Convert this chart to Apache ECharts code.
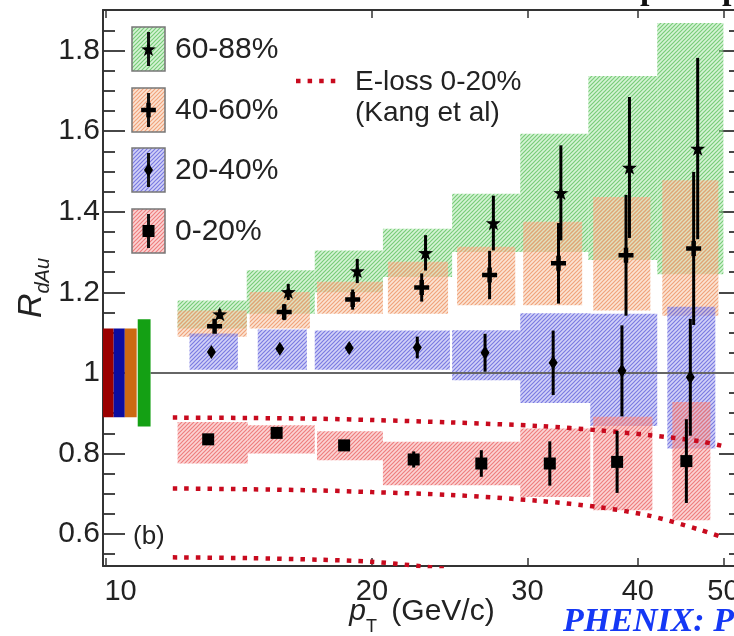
<!DOCTYPE html>
<html><head><meta charset="utf-8">
<script src="https://cdn.jsdelivr.net/npm/echarts@6/dist/echarts.min.js"></script>
<style>html,body{margin:0;padding:0;background:#fff}#c{width:734px;height:636px}</style>
</head><body><div id="c"></div>
<script>
// ---------------- data ----------------
const X_TICKS = [10, 20, 30, 40, 50];
const Y_MAJOR = [0.6, 0.8, 1.0, 1.2, 1.4, 1.6, 1.8];
const Y_MINOR = [0.55,0.65,0.7,0.75,0.85,0.9,0.95,1.05,1.1,1.15,1.25,1.3,1.35,1.45,1.5,1.55,1.65,1.7,1.75,1.85];
const X_RANGE = [9.92, 52.35];
const Y_RANGE = [0.5205, 1.901];
const CENTRALITIES = ['60-88%', '40-60%', '20-40%', '0-20%'];

const PT_60_88  = [13.45, 16.08, 19.25, 23.0, 27.45, 32.73, 39.14, 46.76];
const R_60_88   = [1.146, 1.201, 1.253, 1.298, 1.372, 1.447, 1.510, 1.557];
const ERR_60_88 = [0.012, 0.02, 0.03, 0.044, 0.068, 0.118, 0.175, 0.225];

const PT_40_60  = [13.27, 15.91, 19.02, 22.77, 27.18, 32.53, 38.79, 46.27];
const R_40_60   = [1.116, 1.151, 1.182, 1.212, 1.243, 1.272, 1.292, 1.309];
const ERR_40_60 = [0.012, 0.02, 0.025, 0.035, 0.06, 0.10, 0.15, 0.19];

const PT_20_40  = [13.16, 15.73, 18.85, 22.51, 26.86, 32.08, 38.38, 45.87];
const R_20_40   = [1.052, 1.060, 1.062, 1.063, 1.050, 1.025, 1.005, 0.989];
const ERR_20_40 = [0.01, 0.01, 0.012, 0.027, 0.047, 0.08, 0.113, 0.145];

const PT_0_20   = [13.05, 15.6, 18.6, 22.3, 26.6, 31.8, 37.9, 45.4];
const R_0_20    = [0.835, 0.851, 0.820, 0.785, 0.775, 0.775, 0.779, 0.781];
const ERR_0_20  = [0.01, 0.01, 0.01, 0.02, 0.033, 0.055, 0.077, 0.104];

const SYS_X_60_88 = [[12.05,14.43],[14.43,17.23],[17.23,20.58],[20.58,24.65],[24.65,29.44],[29.44,35.16],[35.16,42.08],[42.08,50.0]];
const SYS_Y_60_88 = [[1.11,1.18],[1.147,1.255],[1.20,1.304],[1.238,1.358],[1.30,1.445],[1.30,1.594],[1.28,1.737],[1.245,1.869]];
const SYS_X_40_60 = [[12.05,14.43],[14.54,17.01],[17.33,20.58],[20.85,24.39],[24.97,29.06],[29.67,34.60],[35.61,41.33],[42.64,49.35]];
const SYS_Y_40_60 = [[1.09,1.155],[1.110,1.201],[1.147,1.226],[1.147,1.276],[1.168,1.313],[1.168,1.375],[1.155,1.437],[1.142,1.478]];
const SYS_X_20_40 = [[12.43,14.10],[14.85,16.88],[17.23,20.58],[20.58,24.51],[24.65,29.44],[29.44,35.34],[35.34,42.08],[43.20,48.96]];
const SYS_Y_20_40 = [[1.008,1.098],[1.008,1.108],[1.008,1.105],[1.008,1.105],[0.982,1.106],[0.925,1.148],[0.868,1.147],[0.812,1.164]];
const SYS_X_0_20  = [[12.05,14.47],[14.47,17.23],[17.33,20.58],[20.58,24.65],[24.65,29.44],[29.44,35.34],[35.61,41.55],[43.77,48.33]];
const SYS_Y_0_20  = [[0.775,0.878],[0.800,0.870],[0.783,0.855],[0.721,0.829],[0.721,0.829],[0.692,0.862],[0.659,0.891],[0.634,0.928]];

// global normalisation uncertainties drawn at R=1 (0-20, 20-40, 40-60, 60-88)
const NORM_X    = [[9.92,10.20],[10.20,10.50],[10.50,10.83],[10.86,11.23]];
const NORM_HALF = [0.11, 0.11, 0.11, 0.133];
const UNITY_X   = [11.23, 52.35];

// E-loss calculation, 0-20% (Kang et al)
const ELOSS_PT   = [11.9, 14.5, 17.5, 20, 24.5, 31, 36.3, 41.3, 47.1, 50.0];
const ELOSS_HI   = [0.889, 0.888, 0.886, 0.883, 0.877, 0.868, 0.857, 0.845, 0.830, 0.818];
const ELOSS_MID  = [0.713, 0.711, 0.708, 0.704, 0.697, 0.682, 0.666, 0.645, 0.610, 0.591];
const ELOSS_LO_PT = [11.9, 14.5, 17.5, 20, 22.7, 24.5];
const ELOSS_LO   = [0.542, 0.540, 0.536, 0.531, 0.520, 0.512];

// ---------------- helpers ----------------
const L = Math.log10;
const FONT = '"Liberation Sans", Arial, Helvetica, sans-serif';
const TXT = '#222';
const STAR_PTS = [[0,-10],[2.35,-3.24],[9.51,-3.09],[3.8,1.24],[5.88,8.09],[0,4],[-5.88,8.09],[-3.8,1.24],[-9.51,-3.09],[-2.35,-3.24]];
const CROSS_PTS = [[-2.4,-8],[2.4,-8],[2.4,-2.4],[8,-2.4],[8,2.4],[2.4,2.4],[2.4,8],[-2.4,8],[-2.4,2.4],[-8,2.4],[-8,-2.4],[-2.4,-2.4]];
const toPath = pts => 'path://M' + pts.map(p => p[0] + ',' + p[1]).join('L') + 'Z';

function hatch(bg, fg) {
  const s = 4;
  const c = document.createElement('canvas');
  c.width = s; c.height = s;
  const g = c.getContext('2d');
  g.fillStyle = bg; g.fillRect(0, 0, s, s);
  g.strokeStyle = fg; g.lineWidth = 1.2;
  g.beginPath();
  g.moveTo(0, s); g.lineTo(s, 0);
  g.moveTo(-1, 1); g.lineTo(1, -1);
  g.moveTo(s - 1, s + 1); g.lineTo(s + 1, s - 1);
  g.stroke();
  return { image: c, repeat: 'repeat' };
}
const PAT = {
  g: hatch('rgba(165,228,165,0.45)', 'rgba(105,198,105,0.85)'),
  o: hatch('rgba(246,195,160,0.45)', 'rgba(238,152,108,0.85)'),
  b: hatch('rgba(155,155,238,0.45)', 'rgba(108,108,222,0.85)'),
  r: hatch('rgba(246,160,160,0.45)', 'rgba(236,112,112,0.85)')
};

function boxSeries(xs, ys, fill, z) {
  return {
    type: 'custom', z: z, silent: true, clip: true,
    data: xs.map((x, i) => [L(x[0]), L(x[1]), ys[i][0], ys[i][1]]),
    renderItem: (params, api) => {
      const p0 = api.coord([api.value(0), api.value(3)]);
      const p1 = api.coord([api.value(1), api.value(2)]);
      return { type: 'rect', shape: { x: p0[0], y: p0[1], width: p1[0] - p0[0], height: p1[1] - p0[1] },
               style: { fill: fill } };
    }
  };
}
function errSeries(pts, vals, errs) {
  return {
    type: 'custom', z: 6, silent: true, clip: true,
    data: pts.map((x, i) => [L(x), vals[i], errs[i]]),
    renderItem: (params, api) => {
      const x = api.value(0), y = api.value(1), e = api.value(2);
      const a = api.coord([x, y - e]), b = api.coord([x, y + e]);
      return { type: 'line', shape: { x1: a[0], y1: a[1], x2: b[0], y2: b[1] },
               style: { stroke: '#000', lineWidth: 3 } };
    }
  };
}
function markerSeries(pts, vals, symbol, size) {
  return {
    type: 'scatter', z: 7, silent: true, symbol: symbol, symbolSize: size, symbolKeepAspect: true,
    itemStyle: { color: '#000', opacity: 1 },
    data: pts.map((x, i) => [L(x), vals[i]])
  };
}
function curveSeries(xs, ys) {
  return {
    type: 'line', z: 5, silent: true, symbol: 'none', smooth: 0.3, clip: true,
    lineStyle: { color: '#c80a1e', width: 4.5, type: [4.5, 7.1], cap: 'butt' },
    data: xs.map((x, i) => [L(x), ys[i]])
  };
}

const NORM_COLORS = ['#9b0000', '#0c0ca0', '#cc6a12', '#14a014'];
const normSeries = {
  type: 'custom', z: 4, silent: true,
  data: NORM_X.map((x, i) => [L(x[0]), L(x[1]), 1 - NORM_HALF[i], 1 + NORM_HALF[i], i]),
  renderItem: (params, api) => {
    const p0 = api.coord([api.value(0), api.value(3)]);
    const p1 = api.coord([api.value(1), api.value(2)]);
    return { type: 'rect', shape: { x: p0[0], y: p0[1], width: p1[0] - p0[0], height: p1[1] - p0[1] },
             style: { fill: NORM_COLORS[api.value(4)] } };
  }
};

// ---------------- axes ----------------
const axLine = { show: true, onZero: false, lineStyle: { color: '#333', width: 2 } };
const xBase = { type: 'value', min: L(X_RANGE[0]), max: L(X_RANGE[1]), splitLine: { show: false } };
const yBase = { type: 'value', min: Y_RANGE[0], max: Y_RANGE[1], splitLine: { show: false } };

const xAxes = [
  Object.assign({}, xBase, {
    position: 'bottom', axisLine: axLine,
    axisTick: { show: true, inside: true, length: 8, customValues: X_TICKS.map(L), lineStyle: { color: '#333', width: 1.5 } },
    axisLabel: {
      show: true, customValues: X_TICKS.map(L), margin: 11, fontSize: 29, fontFamily: FONT, color: TXT,
      formatter: v => { const n = Math.round(Math.pow(10, v)); return n === 10 ? '{f|10}' : String(n); },
      rich: { f: { padding: [0, 0, 0, 29], fontSize: 29, fontFamily: FONT, color: TXT } }
    },
    name: '{p|p}{t|T}{g| (GeV/c)}', nameLocation: 'middle', nameGap: 31, nameMoveOverlap: false,
    nameTextStyle: { rich: {
      p: { fontSize: 30, fontStyle: 'italic', fontFamily: FONT, color: TXT, verticalAlign: 'bottom', padding: [0, 0, 9, 0] },
      t: { fontSize: 18, fontFamily: FONT, color: TXT, verticalAlign: 'bottom' },
      g: { fontSize: 30, fontFamily: FONT, color: TXT, verticalAlign: 'bottom', padding: [0, 0, 9, 6] }
    } }
  }),
  Object.assign({}, xBase, {
    position: 'top', axisLine: axLine,
    axisTick: { show: true, inside: true, length: 8, customValues: X_TICKS.map(L), lineStyle: { color: '#333', width: 1.5 } },
    axisLabel: { show: false }
  })
];
const tickStyle = { color: '#333', width: 1.8 };
const yAxes = [
  Object.assign({}, yBase, {
    position: 'left', axisLine: axLine,
    axisTick: { show: true, inside: true, length: 22, customValues: Y_MAJOR, lineStyle: tickStyle },
    axisLabel: { show: true, customValues: Y_MAJOR, margin: 3, fontSize: 30, fontFamily: FONT, color: TXT,
                 formatter: v => String(Math.round(v * 10) / 10) },
    name: '{r|R}{s|dAu}', nameLocation: 'middle', nameRotate: 90, nameGap: 50, nameMoveOverlap: false,
    nameTextStyle: { rich: {
      r: { fontSize: 34, fontStyle: 'italic', fontFamily: FONT, color: TXT, verticalAlign: 'bottom', padding: [0, 0, 4, 0] },
      s: { fontSize: 20, fontStyle: 'italic', fontFamily: FONT, color: TXT, verticalAlign: 'bottom' }
    } }
  }),
  Object.assign({}, yBase, {
    position: 'left', axisLine: { show: false },
    axisTick: { show: true, inside: true, length: 12, customValues: Y_MINOR, lineStyle: tickStyle },
    axisLabel: { show: false }
  }),
  Object.assign({}, yBase, {
    position: 'right', axisLine: axLine,
    axisTick: { show: true, inside: true, length: 22, customValues: Y_MAJOR, lineStyle: tickStyle },
    axisLabel: { show: false }
  }),
  Object.assign({}, yBase, {
    position: 'right', axisLine: { show: false },
    axisTick: { show: true, inside: true, length: 12, customValues: Y_MINOR, lineStyle: tickStyle },
    axisLabel: { show: false }
  })
];

// ---------------- legend (graphic) ----------------
const LEG_TOPS = [27, 88, 148, 209];
const LEG_FILLS = [PAT.g, PAT.o, PAT.b, PAT.r];
const graphic = [];
const scalePts = (pts, cx, cy, k) => pts.map(p => [cx + p[0] * k, cy + p[1] * k]);
LEG_TOPS.forEach((t, i) => {
  const cx = 148.5, cy = t + 22;
  graphic.push({ type: 'rect', z: 10, shape: { x: 132, y: t, width: 33, height: 44 },
                 style: { fill: LEG_FILLS[i], stroke: '#777', lineWidth: 1.5 } });
  graphic.push({ type: 'line', z: 11, shape: { x1: cx, y1: t + 5, x2: cx, y2: t + 39 },
                 style: { stroke: '#111', lineWidth: 3 } });
  let m;
  if (i === 0) m = { type: 'polygon', shape: { points: scalePts(STAR_PTS, cx, cy + 0.8, 0.78) } };
  else if (i === 1) m = { type: 'polygon', shape: { points: scalePts(CROSS_PTS, cx, cy, 0.92) } };
  else if (i === 2) m = { type: 'polygon', shape: { points: [[cx, cy - 7], [cx + 4.5, cy], [cx, cy + 7], [cx - 4.5, cy]] } };
  else m = { type: 'rect', shape: { x: cx - 6, y: cy - 6, width: 12, height: 12 } };
  m.z = 12; m.style = { fill: '#000' };
  graphic.push(m);
  graphic.push({ type: 'text', z: 12, x: 175, y: cy + 1,
                 style: { text: CENTRALITIES[i], fontSize: 30, fontFamily: FONT, fill: TXT, align: 'left', verticalAlign: 'middle' } });
});
graphic.push({ type: 'line', z: 11, shape: { x1: 296, y1: 81, x2: 338, y2: 81 },
               style: { stroke: '#c80a1e', lineWidth: 4.5, lineDash: [4.5, 7.1] } });
graphic.push({ type: 'text', z: 12, x: 355, y: 82,
               style: { text: 'E-loss 0-20%', fontSize: 28, fontFamily: FONT, fill: TXT, align: 'left', verticalAlign: 'middle' } });
graphic.push({ type: 'text', z: 12, x: 355, y: 113,
               style: { text: '(Kang et al)', fontSize: 28, fontFamily: FONT, fill: TXT, align: 'left', verticalAlign: 'middle' } });
graphic.push({ type: 'text', z: 12, x: 133, y: 537,
               style: { text: '(b)', fontSize: 26, fontFamily: FONT, fill: TXT, align: 'left', verticalAlign: 'middle' } });
graphic.push({ type: 'text', z: 12, x: 563, y: 622,
               style: { text: 'PHENIX: PRL', fontSize: 34, fontStyle: 'italic', fontWeight: 'bold',
                        fontFamily: '"Liberation Serif", "Times New Roman", serif', fill: '#1538f5', align: 'left', verticalAlign: 'middle' } });
graphic.push({ type: 'text', z: 12, x: 640, y: -10,
               style: { text: 'p', fontSize: 34, fontWeight: 'bold', fontFamily: '"Liberation Serif", serif', fill: '#111', align: 'left', verticalAlign: 'middle' } });
graphic.push({ type: 'text', z: 12, x: 722, y: -10,
               style: { text: 'p', fontSize: 34, fontWeight: 'bold', fontFamily: '"Liberation Serif", serif', fill: '#111', align: 'left', verticalAlign: 'middle' } });

// ---------------- option ----------------
const option = {
  animation: false,
  backgroundColor: '#fff',
  grid: { left: 103, right: -7, top: 10, bottom: 70, containLabel: false, outerBoundsMode: 'none' },
  xAxis: xAxes,
  yAxis: yAxes,
  graphic: graphic,
  series: [
    boxSeries(SYS_X_60_88, SYS_Y_60_88, PAT.g, 1),
    boxSeries(SYS_X_40_60, SYS_Y_40_60, PAT.o, 1),
    boxSeries(SYS_X_20_40, SYS_Y_20_40, PAT.b, 1),
    boxSeries(SYS_X_0_20, SYS_Y_0_20, PAT.r, 1),
    { type: 'line', z: 3, silent: true, symbol: 'none', clip: true,
      lineStyle: { color: '#666', width: 2 },
      data: UNITY_X.map(x => [L(x), 1]) },
    normSeries,
    curveSeries(ELOSS_PT, ELOSS_HI),
    curveSeries(ELOSS_PT, ELOSS_MID),
    curveSeries(ELOSS_LO_PT, ELOSS_LO),
    errSeries(PT_60_88, R_60_88, ERR_60_88),
    errSeries(PT_40_60, R_40_60, ERR_40_60),
    errSeries(PT_20_40, R_20_40, ERR_20_40),
    errSeries(PT_0_20, R_0_20, ERR_0_20),
    markerSeries(PT_60_88, R_60_88, toPath(STAR_PTS), 15),
    markerSeries(PT_40_60, R_40_60, toPath(CROSS_PTS), 15),
    markerSeries(PT_20_40, R_20_40, 'diamond', [9, 14]),
    markerSeries(PT_0_20, R_0_20, 'rect', 12)
  ]
};
const chart = echarts.init(document.getElementById('c'), null, { renderer: 'canvas' });
chart.setOption(option);
</script>
</body></html>
